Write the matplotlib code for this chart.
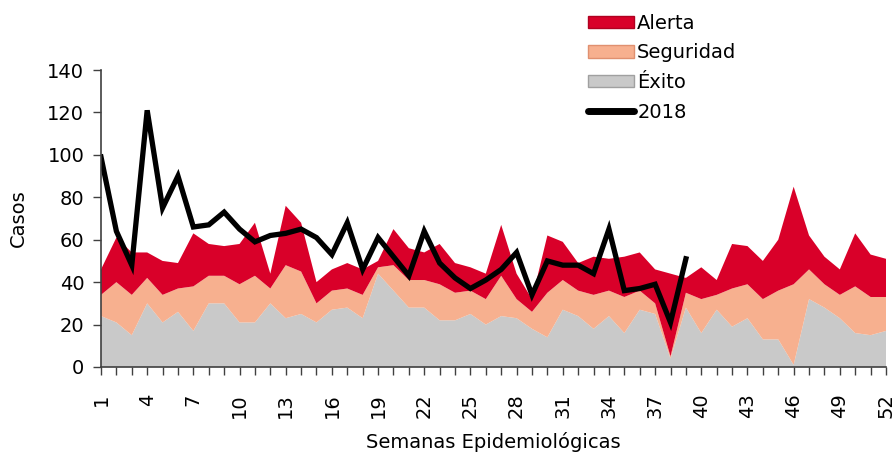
import matplotlib.pyplot as plt
from matplotlib.patches import Patch
from matplotlib.lines import Line2D
import numpy as np

# Semanas epidemiológicas
semanas = list(range(1, 53))

# Canal endémico (capas apiladas)
exito = [24, 21, 15, 30, 21, 26, 17, 30, 30, 21, 21, 30, 23, 25, 21, 27, 28, 23, 44, 36,
         28, 28, 22, 22, 25, 20, 24, 23, 18, 14, 27, 24, 18, 24, 16, 27, 25, 4, 28, 16,
         27, 19, 23, 13, 13, 1, 32, 28, 23, 16, 15, 17]
seguridad = [10, 19, 19, 12, 13, 11, 21, 13, 13, 18, 22, 7, 25, 20, 9, 9, 9, 11, 3, 12,
             13, 13, 17, 13, 11, 12, 19, 9, 8, 21, 14, 12, 16, 12, 17, 9, 5, 1, 7, 16,
             7, 18, 16, 19, 23, 38, 14, 11, 11, 22, 18, 16]
alerta = [12, 21, 20, 12, 16, 12, 25, 15, 14, 19, 25, 7, 28, 23, 10, 10, 12, 12, 3, 17,
          15, 13, 19, 14, 11, 12, 24, 12, 6, 27, 18, 13, 18, 15, 19, 18, 16, 39, 7, 15,
          7, 21, 18, 18, 24, 46, 16, 13, 12, 25, 20, 18]

# Casos 2018
casos_2018 = [99, 64, 48, 121, 75, 90, 66, 67, 73, 65, 59, 62, 63, 65, 61, 53, 68, 46, 61, 52,
              43, 64, 49, 42, 37, 41, 46, 54, 34, 50, 48, 48, 44, 65, 36, 37, 39, 21, 51]

col_exito = "#c9c9c9"
col_seg = "#f7b08f"
col_alerta = "#d90029"

fig = plt.figure(figsize=(8.95, 4.53), dpi=100)
ax = fig.add_axes([101 / 895, 1 - 367 / 453, 785 / 895, 297 / 453])

ax.stackplot(semanas, exito, seguridad, alerta,
             colors=[col_exito, col_seg, col_alerta], linewidth=0)
ax.plot(semanas[:len(casos_2018)], casos_2018, color="black", linewidth=3.8,
        solid_joinstyle="miter")

ax.set_xlim(1, 52)
ax.set_ylim(0, 140)
ax.set_yticks(range(0, 141, 20))
ax.set_xticks(semanas, minor=True)
ax.set_xticks(semanas[::3])
ax.set_xticklabels([str(s) for s in semanas[::3]], rotation=90, fontsize=14)
ax.tick_params(axis="y", labelsize=14, length=6, width=1, color="#404040", pad=6)
ax.tick_params(axis="x", which="both", length=6, width=1, color="#404040", pad=13)

for s in ["top", "right"]:
    ax.spines[s].set_visible(False)
for s in ["left", "bottom"]:
    ax.spines[s].set_color("#404040")
    ax.spines[s].set_linewidth(1.2)

ax.set_ylabel("Casos", fontsize=14, labelpad=14)
ax.set_xlabel("Semanas Epidemiológicas", fontsize=14, labelpad=10)

handles = [Patch(facecolor=col_alerta, edgecolor="#b00020"),
           Patch(facecolor=col_seg, edgecolor="#e09070"),
           Patch(facecolor=col_exito, edgecolor="#a0a0a0"),
           Line2D([0], [0], color="black", linewidth=5, solid_capstyle="round")]
fig.legend(handles, ["Alerta", "Seguridad", "Éxito", "2018"],
           loc="upper left", bbox_to_anchor=(574 / 895, 1 - 0 / 453),
           frameon=False, fontsize=14, handlelength=2.4, handleheight=0.6,
           handletextpad=0.15, labelspacing=0.55, borderpad=0.2)

fig.savefig("out.png", dpi=100)
